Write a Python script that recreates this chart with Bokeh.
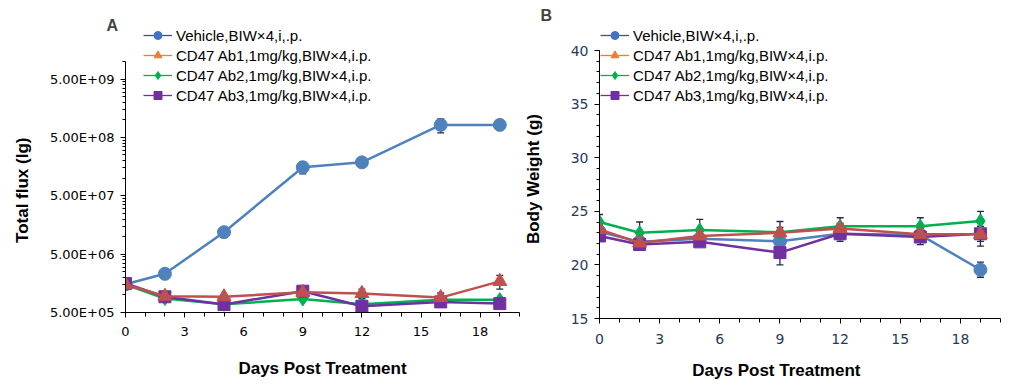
import math
from bokeh.plotting import figure
from bokeh.models import (ColumnDataSource, Whisker, FixedTicker, SingleIntervalTicker,
                          Legend, LegendItem, CustomJSTickFormatter, Range1d, TeeHead)
from bokeh.layouts import row
from bokeh.embed import file_html
from bokeh.resources import INLINE

# ---------------- data ----------------
days = [0, 2, 5, 9, 12, 16, 19]
series_names = ["Vehicle,BIW×4,i,.p.",
                "CD47 Ab1,1mg/kg,BIW×4,i.p.",
                "CD47 Ab2,1mg/kg,BIW×4,i.p.",
                "CD47 Ab3,1mg/kg,BIW×4,i.p."]

# Panel A: total flux
flux_vehicle = [1.52e6, 2.3e6, 1.19e7, 1.54e8, 1.87e8, 8.2e8, 8.2e8]
flux_ab1 = [1.50e6, 9.5e5, 9.3e5, 1.11e6, 1.06e6, 9.0e5, 1.71e6]
flux_ab2 = [1.50e6, 8.7e5, 6.9e5, 8.5e5, 6.9e5, 8.3e5, 8.3e5]
flux_ab3 = [1.57e6, 9.3e5, 6.85e5, 1.16e6, 6.4e5, 7.6e5, 7.1e5]
flux_err_vehicle = [1.0e5, 2.0e5, 1.2e6, 3.5e7, 1.5e7, 2.2e8, 5.0e7]
flux_err_ab1 = [1.0e5, 5.0e4, 5.0e4, 1.0e5, 2.0e5, 1.8e5, 4.5e5]
flux_err_ab2 = [1.0e5, 5.0e4, 5.0e4, 5.0e4, 5.0e4, 5.0e4, 5.0e4]
flux_err_ab3 = [1.0e5, 5.0e4, 5.0e4, 1.0e5, 5.0e4, 5.0e4, 5.0e4]
flux_ticks = [5e5, 5e6, 5e7, 5e8, 5e9]
flux_axis = (5e5, 1e10)

# Panel B: body weight
wt_vehicle = [23.1, 22.15, 22.45, 22.2, 22.9, 22.8, 19.55]
wt_ab1 = [23.3, 22.05, 22.7, 23.0, 23.4, 22.85, 22.85]
wt_ab2 = [24.0, 23.0, 23.25, 23.05, 23.6, 23.6, 24.1]
wt_ab3 = [22.7, 21.9, 22.15, 21.15, 22.9, 22.6, 22.9]
wt_err_vehicle = [0.4, 0.3, 0.4, 0.5, 0.5, 0.5, 0.7]
wt_err_ab1 = [0.4, 0.4, 0.4, 0.5, 0.5, 0.5, 1.1]
wt_err_ab2 = [0.7, 1.0, 1.0, 1.0, 0.8, 0.8, 0.9]
wt_err_ab3 = [0.4, 0.3, 0.4, 1.15, 0.7, 0.7, 0.7]
wt_axis = (15, 40)

# ---------------- styles ----------------
line_colors = ["#4F81BD", "#C0504D", "#00B050", "#7030A0"]
legend_line_colors = ["#44546A", "#ED7D31", "#00B050", "#7030A0"]
legend_marker_colors = ["#4472C4", "#ED7D31", "#00B050", "#7030A0"]
markers = ["circle", "triangle", "diamond", "square"]
marker_sizes = [13, 14, 14, 12]
legend_marker_sizes = [8, 10, 9, 9]
draw_order = [0, 2, 3, 1]
err_color = "#1F2D4D"
title_font = "Liberation Sans"
NBSP = "\u00a0"

# geometry (px)
TOP, HEIGHT = 25, 389
A_left, A_frame_w, A_right, A_bottom = 125, 394, 1, 77
A_axis_top_gap, A_axis_px = 36, 251
B_left, B_frame_w, B_right, B_bottom = 78, 402, 16, 71
B_axis_top_gap, B_axis_px = 25, 268


def style_axes(p, tick_font, tick_size, tick_color):
    for ax in (p.xaxis[0], p.yaxis[0]):
        ax.axis_line_color = "black"
        ax.major_tick_line_color = "black"
        ax.minor_tick_line_color = "black"
        ax.major_tick_in = 0
        ax.minor_tick_in = 0
        ax.major_tick_out = 5
        ax.major_label_text_font = tick_font
        ax.major_label_text_font_size = tick_size
        ax.major_label_text_color = tick_color
        ax.axis_label_text_font = title_font
        ax.axis_label_text_font_style = "bold"
        ax.axis_label_text_font_size = "17px"
        ax.axis_label_text_color = "black"
    p.xaxis[0].minor_tick_out = 4
    p.yaxis[0].minor_tick_out = 3
    p.outline_line_color = None
    p.grid.visible = False
    p.title.text_font = title_font
    p.title.text_font_style = "bold"
    p.title.text_font_size = "16px"
    p.title.align = "left"


def build(p, ys, errs, leg_x, leg_y):
    for i in draw_order:
        src = ColumnDataSource(dict(x=days, y=ys[i],
                                    upper=[a + b for a, b in zip(ys[i], errs[i])],
                                    lower=[a - b for a, b in zip(ys[i], errs[i])]))
        p.add_layout(Whisker(source=src, base="x", upper="upper", lower="lower",
                             line_color=err_color, line_width=1.3,
                             upper_head=TeeHead(size=7, line_color=err_color, line_width=1.3),
                             lower_head=TeeHead(size=7, line_color=err_color, line_width=1.3)))
        p.line("x", "y", source=src, line_color=line_colors[i], line_width=2.5)
        p.scatter("x", "y", source=src, marker=markers[i], size=marker_sizes[i],
                  fill_color=line_colors[i], line_color=line_colors[i])
    items = []
    for i in range(4):
        nan_src = ColumnDataSource(dict(x=[float("nan")], y=[float("nan")]))
        lr = p.line("x", "y", source=nan_src, line_color=legend_line_colors[i], line_width=1.3)
        sr = p.scatter("x", "y", source=nan_src, marker=markers[i], size=legend_marker_sizes[i],
                       fill_color=legend_marker_colors[i], line_color=legend_marker_colors[i])
        items.append(LegendItem(label=series_names[i], renderers=[lr, sr]))
    leg = Legend(items=items, location=(leg_x, leg_y), padding=0, spacing=0, margin=0,
                 label_height=20, glyph_height=20, glyph_width=29, label_standoff=4,
                 label_text_font=title_font, label_text_font_size="15px",
                 label_text_color="black", background_fill_alpha=0,
                 border_line_alpha=0)
    p.add_layout(leg, "center")


# ---------------- panel A ----------------
A_frame_h = HEIGHT - TOP - A_bottom
dec_per_px = math.log10(flux_axis[1] / flux_axis[0]) / A_axis_px
A_y_end = flux_axis[1] * 10 ** (A_axis_top_gap * dec_per_px)
pA = figure(width=A_left + A_frame_w + A_right, height=HEIGHT,
            min_border_left=A_left, min_border_right=A_right,
            min_border_top=TOP, min_border_bottom=A_bottom, y_axis_type="log",
            x_range=Range1d(0, 20), y_range=Range1d(flux_axis[0], A_y_end),
            title="A", output_backend="svg", toolbar_location=None,
            frame_align=False)
style_axes(pA, "DejaVu Sans", "13px", "black")
pA.title.offset = -19
pA.title.standoff = -17
minor_flux = [k * t for t in flux_ticks for k in range(2, 10) if k * t <= flux_axis[1]]
pA.yaxis[0].ticker = FixedTicker(ticks=flux_ticks, minor_ticks=minor_flux)
pA.yaxis[0].bounds = flux_axis
pA.yaxis[0].formatter = CustomJSTickFormatter(code="""
const e = Math.floor(Math.log10(tick) + 1e-9);
const m = tick / Math.pow(10, e);
return m.toFixed(2) + "E+" + (e < 10 ? "0" : "") + e;
""")
pA.xaxis[0].ticker = SingleIntervalTicker(interval=3, num_minor_ticks=3)
pA.xaxis.axis_label = "Days Post Treatment"
pA.yaxis.axis_label = "Total flux (lg)" + NBSP * 9
pA.xaxis[0].major_label_standoff = 9
pA.yaxis[0].major_label_standoff = 6
pA.xaxis[0].axis_label_standoff = 20
pA.yaxis[0].axis_label_standoff = 15
build(pA, [flux_vehicle, flux_ab1, flux_ab2, flux_ab3],
      [flux_err_vehicle, flux_err_ab1, flux_err_ab2, flux_err_ab3], 18, A_frame_h - 80)

# ---------------- panel B ----------------
B_frame_h = HEIGHT - TOP - B_bottom
B_y_end = wt_axis[1] + B_axis_top_gap * (wt_axis[1] - wt_axis[0]) / B_axis_px
pB = figure(width=B_left + B_frame_w + B_right, height=HEIGHT,
            min_border_left=B_left, min_border_right=B_right,
            min_border_top=TOP, min_border_bottom=B_bottom,
            x_range=Range1d(0, 20), y_range=Range1d(wt_axis[0], B_y_end),
            title="B", output_backend="svg", toolbar_location=None,
            frame_align=False)
style_axes(pB, "DejaVu Sans", "14px", "#1F3A60")
pB.title.offset = -59
pB.title.standoff = 4
pB.yaxis[0].bounds = wt_axis
pB.xaxis[0].ticker = SingleIntervalTicker(interval=3, num_minor_ticks=3)
pB.yaxis[0].ticker = SingleIntervalTicker(interval=5, num_minor_ticks=5)
pB.xaxis.axis_label = "Days Post Treatment" + NBSP * 10
pB.yaxis.axis_label = "Body Weight (g)" + NBSP * 3
pB.xaxis[0].major_label_standoff = 10
pB.yaxis[0].major_label_standoff = 6
pB.xaxis[0].axis_label_standoff = 14
pB.yaxis[0].axis_label_standoff = 25
build(pB, [wt_vehicle, wt_ab1, wt_ab2, wt_ab3],
      [wt_err_vehicle, wt_err_ab1, wt_err_ab2, wt_err_ab3], 1, B_frame_h - 80)

layout = row(pA, pB)
open("out.html", "w").write(file_html(layout, INLINE))
